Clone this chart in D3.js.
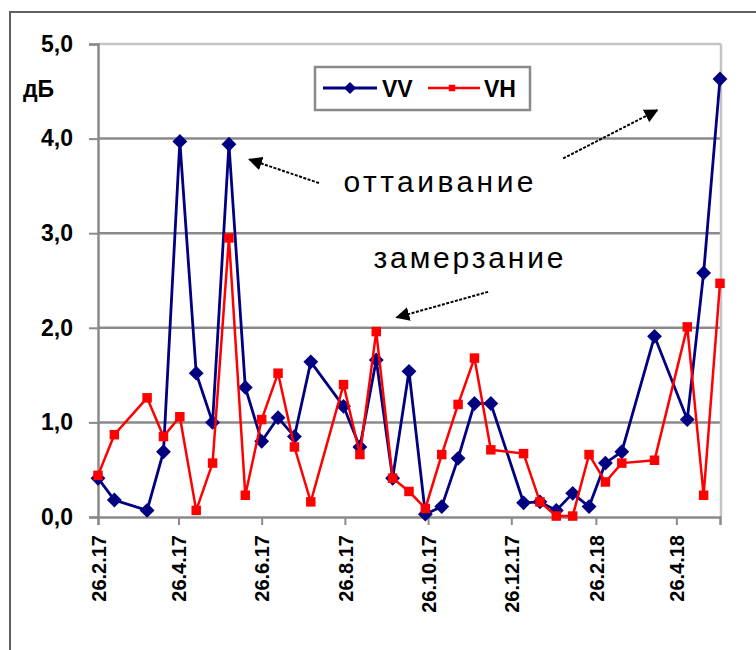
<!DOCTYPE html>
<meta charset="utf-8">
<style>
body { margin: 0; background: #fff; }
text { font-family: Arial, "Liberation Sans", sans-serif; }
.axis-label { font-size: 23px; font-weight: bold; fill: #000; }
.x-label { font-size: 20px; font-weight: bold; fill: #000; }
.note { font-size: 30px; fill: #000; }
</style>
<body>
<script src="https://cdn.jsdelivr.net/npm/d3@7"></script>
<script>

// measurement dates (dd.mm.yy) and backscatter change, dB
var dates = ["26.02.17","10.03.17","03.04.17","15.04.17","27.04.17","09.05.17","21.05.17",
  "02.06.17","14.06.17","26.06.17","08.07.17","20.07.17","01.08.17","25.08.17","06.09.17",
  "18.09.17","30.09.17","12.10.17","24.10.17","05.11.17","17.11.17","29.11.17","11.12.17",
  "04.01.18","16.01.18","28.01.18","09.02.18","21.02.18","05.03.18","17.03.18","10.04.18",
  "04.05.18","16.05.18","28.05.18"];

var vv = [0.41, 0.18, 0.07, 0.69, 3.97, 1.52, 1.00, 3.94, 1.37, 0.80, 1.05, 0.85, 1.64, 1.17,
  0.74, 1.66, 0.41, 1.54, 0.03, 0.11, 0.62, 1.20, 1.20, 0.15, 0.16, 0.07, 0.25, 0.11, 0.57,
  0.69, 1.91, 1.03, 2.58, 4.63];

var vh = [0.44, 0.87, 1.26, 0.85, 1.06, 0.07, 0.57, 2.95, 0.23, 1.03, 1.52, 0.74, 0.16, 1.40,
  0.66, 1.96, 0.41, 0.27, 0.09, 0.66, 1.19, 1.68, 0.71, 0.67, 0.16, 0.01, 0.01, 0.66, 0.37,
  0.57, 0.60, 2.01, 0.23, 2.47];

var yTicks = [0, 1, 2, 3, 4, 5];
var xTicks = ["26.02.17","26.04.17","26.06.17","26.08.17","26.10.17","26.12.17","26.02.18","26.04.18"];
var xEnd = "28.05.18";

var yUnit = "дБ";
var seriesNames = ["VV", "VH"];
// annotations: [date, dB] of text / arrow ends
var notes = [
  {text: "оттаивание", at: ["25.08.17", 3.44]},
  {text: "замерзание", at: ["16.09.17", 2.63]}
];
var arrows = [
  {from: ["07.08.17", 3.53], to: ["17.06.17", 3.78]},
  {from: ["02.02.18", 3.79], to: ["12.04.18", 4.30]},
  {from: ["09.12.17", 2.38], to: ["03.10.17", 2.11]}
];

var parse = d3.timeParse("%d.%m.%y");
var width = 756, height = 650;

var svg = d3.select("body").append("svg")
  .attr("width", width)
  .attr("height", height);

svg.append("rect")
  .attr("x", 10).attr("y", 12)
  .attr("width", 800).attr("height", 700)
  .attr("fill", "#fff")
  .attr("stroke", "#606060")
  .attr("stroke-width", 2);

var x = d3.scaleTime()
  .domain([parse(dates[0]), parse(xEnd)])
  .range([98, 720]);

var y = d3.scaleLinear()
  .domain([0, 5])
  .range([517, 44]);

// grid
svg.append("g").selectAll("line")
  .data(yTicks.filter(function(d) { return d > 0; }))
  .enter().append("line")
  .attr("x1", 98).attr("x2", 721)
  .attr("y1", function(d) { return y(d); })
  .attr("y2", function(d) { return y(d); })
  .attr("stroke", function(d) { return d == 5 ? "#c4c4c4" : "#8a8a8a"; })
  .attr("stroke-width", 2.5);

svg.append("line")
  .attr("x1", 721).attr("x2", 721)
  .attr("y1", y(5)).attr("y2", y(0))
  .attr("stroke", "#c4c4c4").attr("stroke-width", 2.5);

var fmt = d3.formatLocale({decimal: ",", thousands: " ", grouping: [3], currency: ["", ""]}).format(".1f");

var yAxis = svg.append("g")
  .attr("transform", "translate(98,0)")
  .call(d3.axisLeft(y).tickValues(yTicks).tickFormat(fmt).tickSize(9).tickPadding(16));
yAxis.selectAll("line").attr("stroke", "#8a8a8a").attr("stroke-width", 2);
yAxis.select(".domain").attr("stroke", "#8a8a8a").attr("stroke-width", 2.5);
yAxis.selectAll("text").attr("class", "axis-label").attr("font-size", null).attr("font-family", null);

var xAxis = svg.append("g")
  .attr("transform", "translate(0," + y(0) + ")")
  .call(d3.axisBottom(x)
    .tickValues(xTicks.map(parse))
    .tickFormat(d3.timeFormat("%-d.%-m.%y"))
    .tickSize(8));
xAxis.select(".domain").attr("stroke", "#8a8a8a").attr("stroke-width", 2.5);
xAxis.selectAll("line").attr("stroke", "#8a8a8a").attr("stroke-width", 2);
xAxis.selectAll("text")
  .attr("class", "x-label").attr("font-size", null).attr("font-family", null)
  .attr("transform", "rotate(-90)")
  .attr("x", -18)
  .attr("y", 0)
  .attr("dy", "0.36em")
  .style("text-anchor", "end");

svg.append("text")
  .attr("class", "axis-label")
  .attr("x", 23).attr("y", 97)
  .text(yUnit);

// series
var vvData = dates.map(function(d, i) { return {date: parse(d), v: vv[i]}; });
var vhData = dates.map(function(d, i) { return {date: parse(d), v: vh[i]}; });

var line = d3.line()
  .x(function(d) { return x(d.date); })
  .y(function(d) { return y(d.v); });

var diamond = d3.symbol().type(d3.symbolSquare).size(110);
var square = d3.symbol().type(d3.symbolSquare).size(90);

svg.append("path")
  .datum(vvData)
  .attr("fill", "none")
  .attr("stroke", "#000080")
  .attr("stroke-width", 2.8)
  .attr("d", line);

svg.append("g").selectAll("path")
  .data(vvData)
  .enter().append("path")
  .attr("d", diamond)
  .attr("fill", "#000080")
  .attr("transform", function(d) { return "translate(" + x(d.date) + "," + y(d.v) + ") rotate(45)"; });

svg.append("path")
  .datum(vhData)
  .attr("fill", "none")
  .attr("stroke", "#ff0000")
  .attr("stroke-width", 2.5)
  .attr("d", line);

svg.append("g").selectAll("path")
  .data(vhData)
  .enter().append("path")
  .attr("d", square)
  .attr("fill", "#ff0000")
  .attr("transform", function(d) { return "translate(" + x(d.date) + "," + y(d.v) + ")"; });

// legend
var lg = svg.append("g").attr("transform", "translate(315,67)");
lg.append("rect")
  .attr("width", 215).attr("height", 43)
  .attr("fill", "#fff")
  .attr("stroke", "#8a8a8a")
  .attr("stroke-width", 2.5);
lg.append("line").attr("x1", 8).attr("x2", 62).attr("y1", 21).attr("y2", 21)
  .attr("stroke", "#000080").attr("stroke-width", 2.8);
lg.append("path").attr("d", d3.symbol().type(d3.symbolSquare).size(72))
  .attr("fill", "#000080").attr("transform", "translate(35,21) rotate(45)");
lg.append("text").attr("class", "axis-label").attr("x", 67).attr("y", 30).text(seriesNames[0]);
lg.append("line").attr("x1", 113).attr("x2", 165).attr("y1", 21).attr("y2", 21)
  .attr("stroke", "#ff0000").attr("stroke-width", 2.5);
lg.append("path").attr("d", d3.symbol().type(d3.symbolSquare).size(42))
  .attr("fill", "#ff0000").attr("transform", "translate(137,21)");
lg.append("text").attr("class", "axis-label").attr("x", 169).attr("y", 30).text(seriesNames[1]);

// annotations
svg.append("defs").append("marker")
  .attr("id", "head")
  .attr("viewBox", "0 0 10 10")
  .attr("refX", 9).attr("refY", 5)
  .attr("markerWidth", 7).attr("markerHeight", 7)
  .attr("markerUnits", "strokeWidth")
  .attr("orient", "auto")
  .append("path")
  .attr("d", "M0,0 L10,5 L0,10 z")
  .attr("fill", "#000");

svg.append("g").selectAll("line")
  .data(arrows)
  .enter().append("line")
  .attr("x1", function(d) { return x(parse(d.from[0])); })
  .attr("y1", function(d) { return y(d.from[1]); })
  .attr("x2", function(d) { return x(parse(d.to[0])); })
  .attr("y2", function(d) { return y(d.to[1]); })
  .attr("stroke", "#000")
  .attr("stroke-width", 2)
  .attr("stroke-dasharray", "3,1.5")
  .attr("marker-end", "url(#head)");

svg.append("g").selectAll("text")
  .data(notes)
  .enter().append("text")
  .attr("class", "note")
  .attr("x", function(d) { return x(parse(d.at[0])); })
  .attr("y", function(d) { return y(d.at[1]); })
  .attr("textLength", 190)
  .attr("lengthAdjust", "spacing")
  .text(function(d) { return d.text; });

</script>
</body>
